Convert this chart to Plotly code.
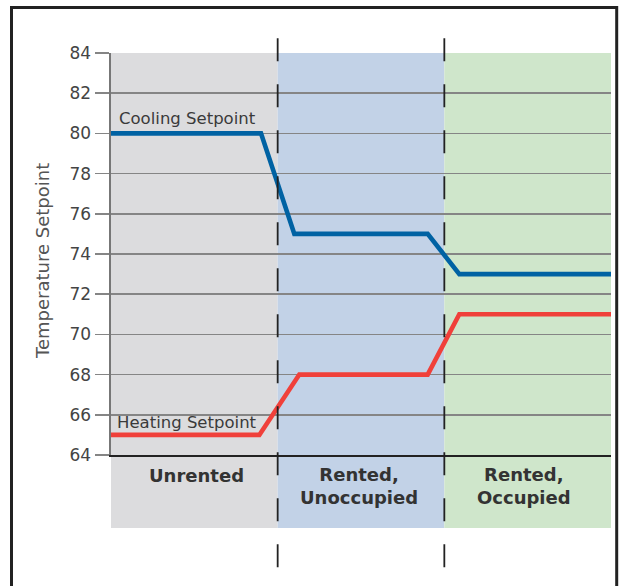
import plotly.graph_objects as go

# ---- data ----
phases = ["Unrented", "Rented,<br>Unoccupied", "Rented,<br>Occupied"]
phase_start = [0, 1, 2]
phase_end = [1, 2, 3]
phase_colors = ["#dcdcde", "#c2d2e7", "#cfe6cb"]
phase_label_x = [0.51, 1.49, 2.48]

cooling_x = [0, 0.90, 1.10, 1.90, 2.09, 3.0]
cooling_y = [80, 80, 75, 75, 73, 73]
heating_x = [0, 0.89, 1.13, 1.90, 2.09, 3.0]
heating_y = [65, 65, 68, 68, 71, 71]

y_ticks = [64, 66, 68, 70, 72, 74, 76, 78, 80, 82, 84]

FONT = "DejaVu Sans"

fig = go.Figure()

fig.add_trace(go.Scatter(x=cooling_x, y=cooling_y, mode="lines",
                         line=dict(color="#0062a3", width=4.6),
                         hoverinfo="skip", showlegend=False))
fig.add_trace(go.Scatter(x=heating_x, y=heating_y, mode="lines",
                         line=dict(color="#f0403a", width=4.6),
                         hoverinfo="skip", showlegend=False))

shapes = []
for s, e, c in zip(phase_start, phase_end, phase_colors):
    shapes.append(dict(type="rect", xref="x", yref="paper", x0=s, x1=e,
                       y0=-0.1816, y1=1, fillcolor=c, line_width=0,
                       layer="below"))
for b in phase_start[1:]:
    shapes.append(dict(type="line", xref="x", yref="paper", x0=b, x1=b,
                       y0=1.037, y1=-0.31,
                       line=dict(color="#222222", width=1.8, dash="23px,23px"),
                       layer="above"))
# outer frame
shapes.append(dict(type="rect", xref="paper", yref="paper",
                   x0=-0.199, x1=1.0114, y0=-0.4, y1=1.1132,
                   line=dict(color="#222222", width=3), fillcolor="rgba(0,0,0,0)",
                   layer="above"))

annotations = []
for lx, lab in zip(phase_label_x, phases):
    two = "<br>" in lab
    annotations.append(dict(x=lx, xref="x", y=-0.0771 if two else -0.0522,
                            yref="paper", text=lab, showarrow=False,
                            xanchor="center", yanchor="middle",
                            font=dict(family=FONT, size=18, color="#333333",
                                      weight="bold")))
annotations.append(dict(x=0.036, xref="x", y=80.72, yref="y",
                        text="Cooling Setpoint", showarrow=False,
                        xanchor="left", yanchor="middle",
                        font=dict(family=FONT, size=16.5, color="#3a3a3a")))
annotations.append(dict(x=0.024, xref="x", y=65.64, yref="y",
                        text="Heating Setpoint", showarrow=False,
                        xanchor="left", yanchor="middle",
                        font=dict(family=FONT, size=16.5, color="#3a3a3a")))
annotations.append(dict(x=-0.136, xref="paper", y=0.4826, yref="paper",
                        text="Temperature Setpoint", showarrow=False,
                        textangle=-90, xanchor="center", yanchor="middle",
                        font=dict(family=FONT, size=18, color="#555555")))

fig.update_layout(
    width=623, height=586,
    margin=dict(l=111, r=12, t=53, b=131),
    paper_bgcolor="white", plot_bgcolor="rgba(0,0,0,0)",
    shapes=shapes, annotations=annotations,
    xaxis=dict(range=[0, 3], showgrid=False, zeroline=False,
               showticklabels=False, ticks="", showline=True,
               linecolor="#222222", linewidth=2, fixedrange=True),
    yaxis=dict(range=[64, 84], tickvals=y_ticks, showgrid=True,
               gridcolor="#858585", gridwidth=1.6, zeroline=False,
               ticks="outside", ticklen=14, tickcolor="#858585", tickwidth=1.6,
               showline=True, linecolor="#777777", linewidth=2.5,
               tickfont=dict(family=FONT, size=17, color="#444444"),
               fixedrange=True),
    showlegend=False,
)

fig.write_html(
    "out.html",
    config={"displayModeBar": False, "staticPlot": True},
    post_script="document.body.style.margin='0';"
                "document.documentElement.style.overflow='hidden';"
                "document.body.style.overflow='hidden';",
)
